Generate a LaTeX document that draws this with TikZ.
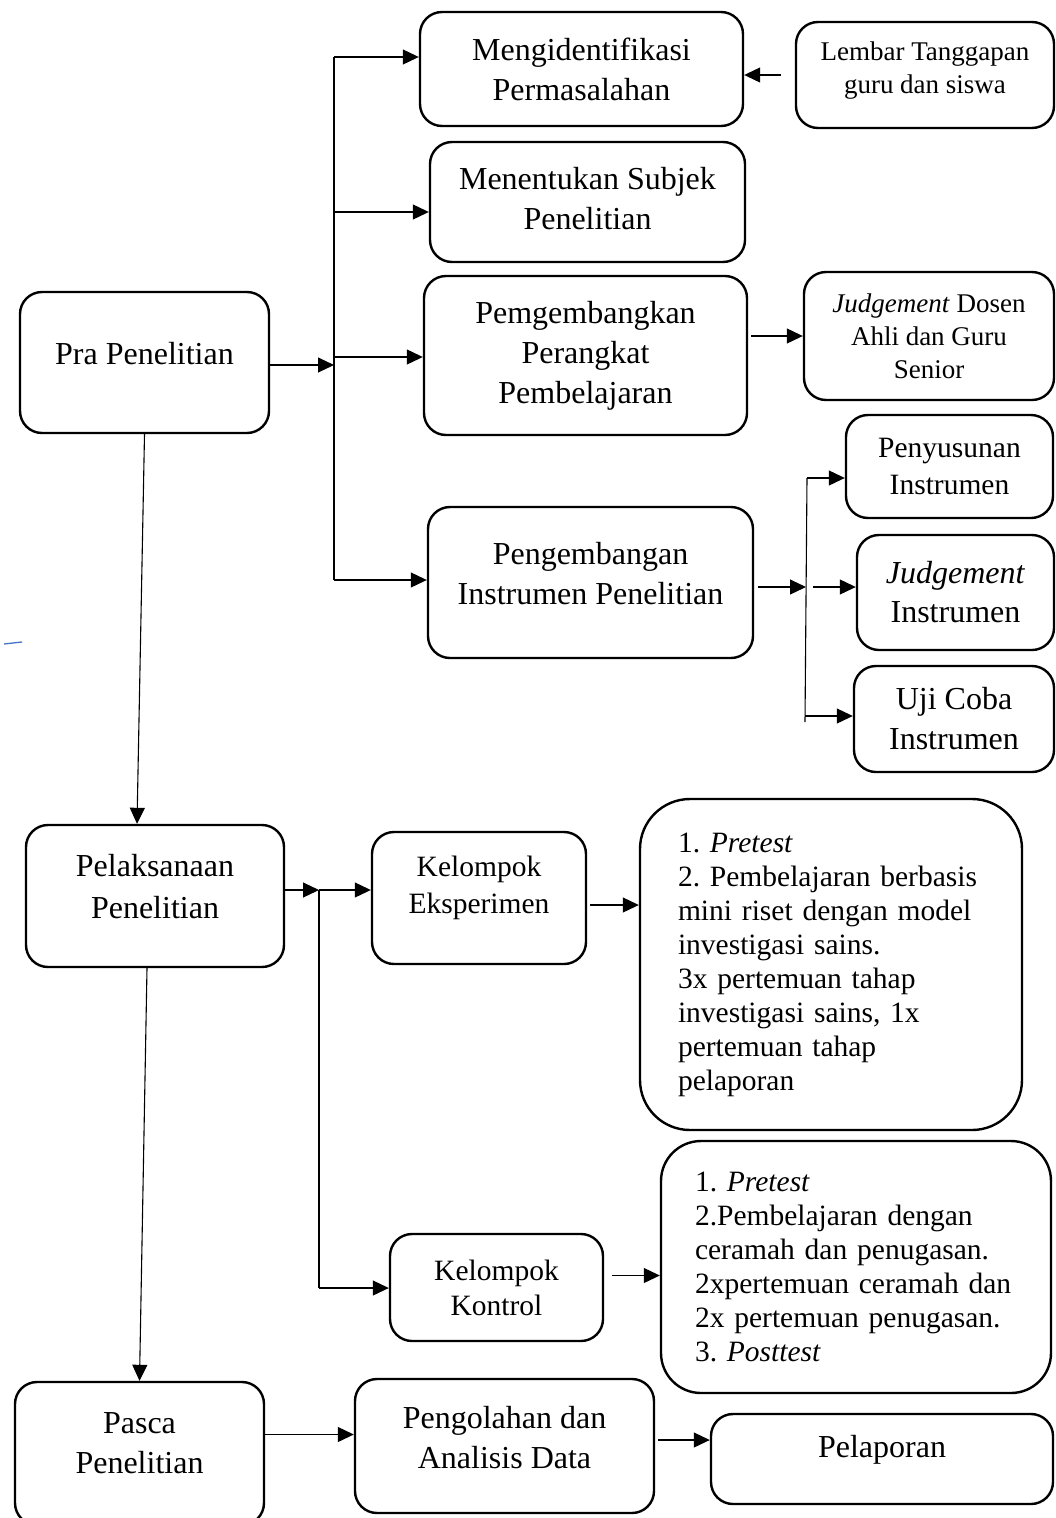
\documentclass[tikz,border=0pt]{standalone}
\usepackage{fontspec}
\setmainfont{Liberation Serif}
\usetikzlibrary{arrows.meta}
\definecolor{markblue}{RGB}{68,114,196}
\frenchspacing
\newcommand{\fbig}{\fontsize{32}{40}\selectfont}
\newcommand{\fmid}{\fontsize{29.5}{37}\selectfont}
\newcommand{\fsmall}{\fontsize{27}{33}\selectfont}
\newcommand{\flist}{\fontsize{29.5}{34}\selectfont}

\begin{document}
\begin{tikzpicture}[
  x=1pt, y=-1pt,
  box/.style={draw, line width=2.4pt, rounded corners=22pt, align=center, font=\fbig},
  listbox/.style={draw, line width=2.4pt, align=left, font=\flist},
  lift/.style={text depth=#1},
  arr/.style={-{Triangle[length=16pt,width=15pt]}, line width=1.1pt},
  bus/.style={line width=1.1pt}
]
\useasboundingbox (0,0) rectangle (1055,1518);

% tahap pra penelitian
\node[box, minimum width=249pt, minimum height=141pt, lift=18pt] (pra) at (144.5,362.5) {Pra Penelitian};
\node[box, minimum width=323pt, minimum height=114pt] (ident) at (581.5,69) {Mengidentifikasi\\Permasalahan};
\node[box, font=\fsmall, minimum width=258pt, minimum height=106pt, lift=14pt] (lembar) at (925,75) {Lembar Tanggapan\\guru dan siswa};
\node[box, minimum width=315pt, minimum height=120pt, lift=8pt] (subjek) at (587.5,202) {Menentukan Subjek\\Penelitian};
\node[box, minimum width=323pt, minimum height=159pt] (perangkat) at (585.5,355.5) {Pemgembangkan\\Perangkat\\Pembelajaran};
\node[box, font=\fsmall, minimum width=250pt, minimum height=128pt] (dosen) at (929,336) {\textit{Judgement} Dosen\\Ahli dan Guru\\Senior};
\node[box, minimum width=325pt, minimum height=151pt, lift=18pt] (instr) at (590.5,582.5) {Pengembangan\\Instrumen Penelitian};
\node[box, font=\fmid, minimum width=207pt, minimum height=103pt] (susun) at (949.5,466.5) {Penyusunan\\Instrumen};
\node[box, font=\fontsize{32}{39}\selectfont, minimum width=197pt, minimum height=115pt] (judgi) at (955.5,592.5) {\textit{Judgement}\\Instrumen};
\node[box, minimum width=200pt, minimum height=106pt] (uji) at (954,719) {Uji Coba\\Instrumen};

% tahap pelaksanaan
\node[box, font=\fontsize{32}{42}\selectfont, minimum width=258pt, minimum height=142pt, lift=20pt] (laks) at (155,896) {Pelaksanaan\\Penelitian};
\node[box, font=\fmid, minimum width=214pt, minimum height=132pt, lift=26pt] (eksp) at (479,898) {Kelompok\\Eksperimen};
\node[listbox, rounded corners=50pt, text width=306pt, minimum width=382pt, minimum height=331pt] (ekspket) at (831,964.5)
  {1. \textit{Pretest}\\2. Pembelajaran berbasis\\mini riset dengan model\\investigasi sains.\\3x pertemuan tahap\\investigasi sains, 1x\\pertemuan tahap\\pelaporan};
\node[box, font=\fontsize{29.5}{35}\selectfont, minimum width=213pt, minimum height=107pt] (kontrol) at (496.5,1287.5) {Kelompok\\Kontrol};
\node[listbox, rounded corners=40pt, text width=322pt, minimum width=390pt, minimum height=252pt] (kontket) at (856,1267)
  {1. \textit{Pretest}\\2.Pembelajaran dengan\\ceramah dan penugasan.\\2xpertemuan ceramah dan\\2x pertemuan penugasan.\\3. \textit{Posttest}};

% tahap pasca penelitian
\node[box, minimum width=249pt, minimum height=143pt, lift=20pt] (pasca) at (139.5,1453.5) {Pasca\\Penelitian};
\node[box, minimum width=299pt, minimum height=134pt, lift=18pt] (olah) at (504.5,1446) {Pengolahan dan\\Analisis Data};
\node[box, minimum width=342pt, minimum height=90pt, lift=25pt] (lapor) at (882,1459) {Pelaporan};

% percabangan
\coordinate (b1top) at (334,57);
\coordinate (b1s) at (334,212);
\coordinate (b1p) at (334,357);
\coordinate (b1q) at (334,365);
\coordinate (b1bot) at (334,580);
\coordinate (b2top) at (807,478);
\coordinate (b2mid) at (806,587);
\coordinate (b2u) at (805,716);
\coordinate (b2bot) at (805,722);
\coordinate (b3top) at (319,890);
\coordinate (b3bot) at (319,1288);

\draw[arr] (pra.east |- b1q) -- (b1q);
\draw[bus] (b1top) -- (b1bot);
\draw[arr] (b1top) -- (ident.west |- b1top);
\draw[arr] (b1s) -- (subjek.west |- b1s);
\draw[arr] (b1p) -- (perangkat.west |- b1p);
\draw[arr] (b1bot) -- (instr.west |- b1bot);
\draw[arr] ([xshift=-14pt]lembar.west) -- (ident.east |- lembar.west);
\draw[arr] ([xshift=3pt]perangkat.east |- dosen.west) -- (dosen.west);

\draw[arr] ([xshift=4pt]instr.east |- b2mid) -- (b2mid);
\draw[bus] (b2top) -- (b2bot);
\draw[arr] (b2top) -- (susun.west |- b2top);
\draw[arr] ([xshift=7pt]b2mid) -- (judgi.west |- b2mid);
\draw[arr] (b2u) -- (uji.west |- b2u);

\draw[arr] (pra.south) -- ([xshift=-18pt]laks.north);
\draw[arr] ([xshift=-8pt]laks.south) -- (pasca.north);

\draw[arr] (laks.east |- b3top) -- (b3top);
\draw[bus] (b3top) -- (b3bot);
\draw[arr] (b3top) -- (eksp.west |- b3top);
\draw[arr] (b3bot) -- (kontrol.west |- b3bot);
\draw[arr] ([xshift=3pt,yshift=-7pt]eksp.east) -- ([yshift=-7pt]eksp.east -| ekspket.west);
\draw[arr] ([xshift=8pt,yshift=12pt]kontrol.east) -- ([yshift=12pt]kontrol.east -| kontket.west);

\draw[arr] ([yshift=19pt]pasca.east) -- ([yshift=19pt]pasca.east -| olah.west);
\draw[arr] ([xshift=3pt,yshift=6pt]olah.east) -- ([yshift=6pt]olah.east -| lapor.west);

% coretan biru
\draw[markblue, line width=1.3pt] (4,644) -- (22,642);
\end{tikzpicture}
\end{document}
